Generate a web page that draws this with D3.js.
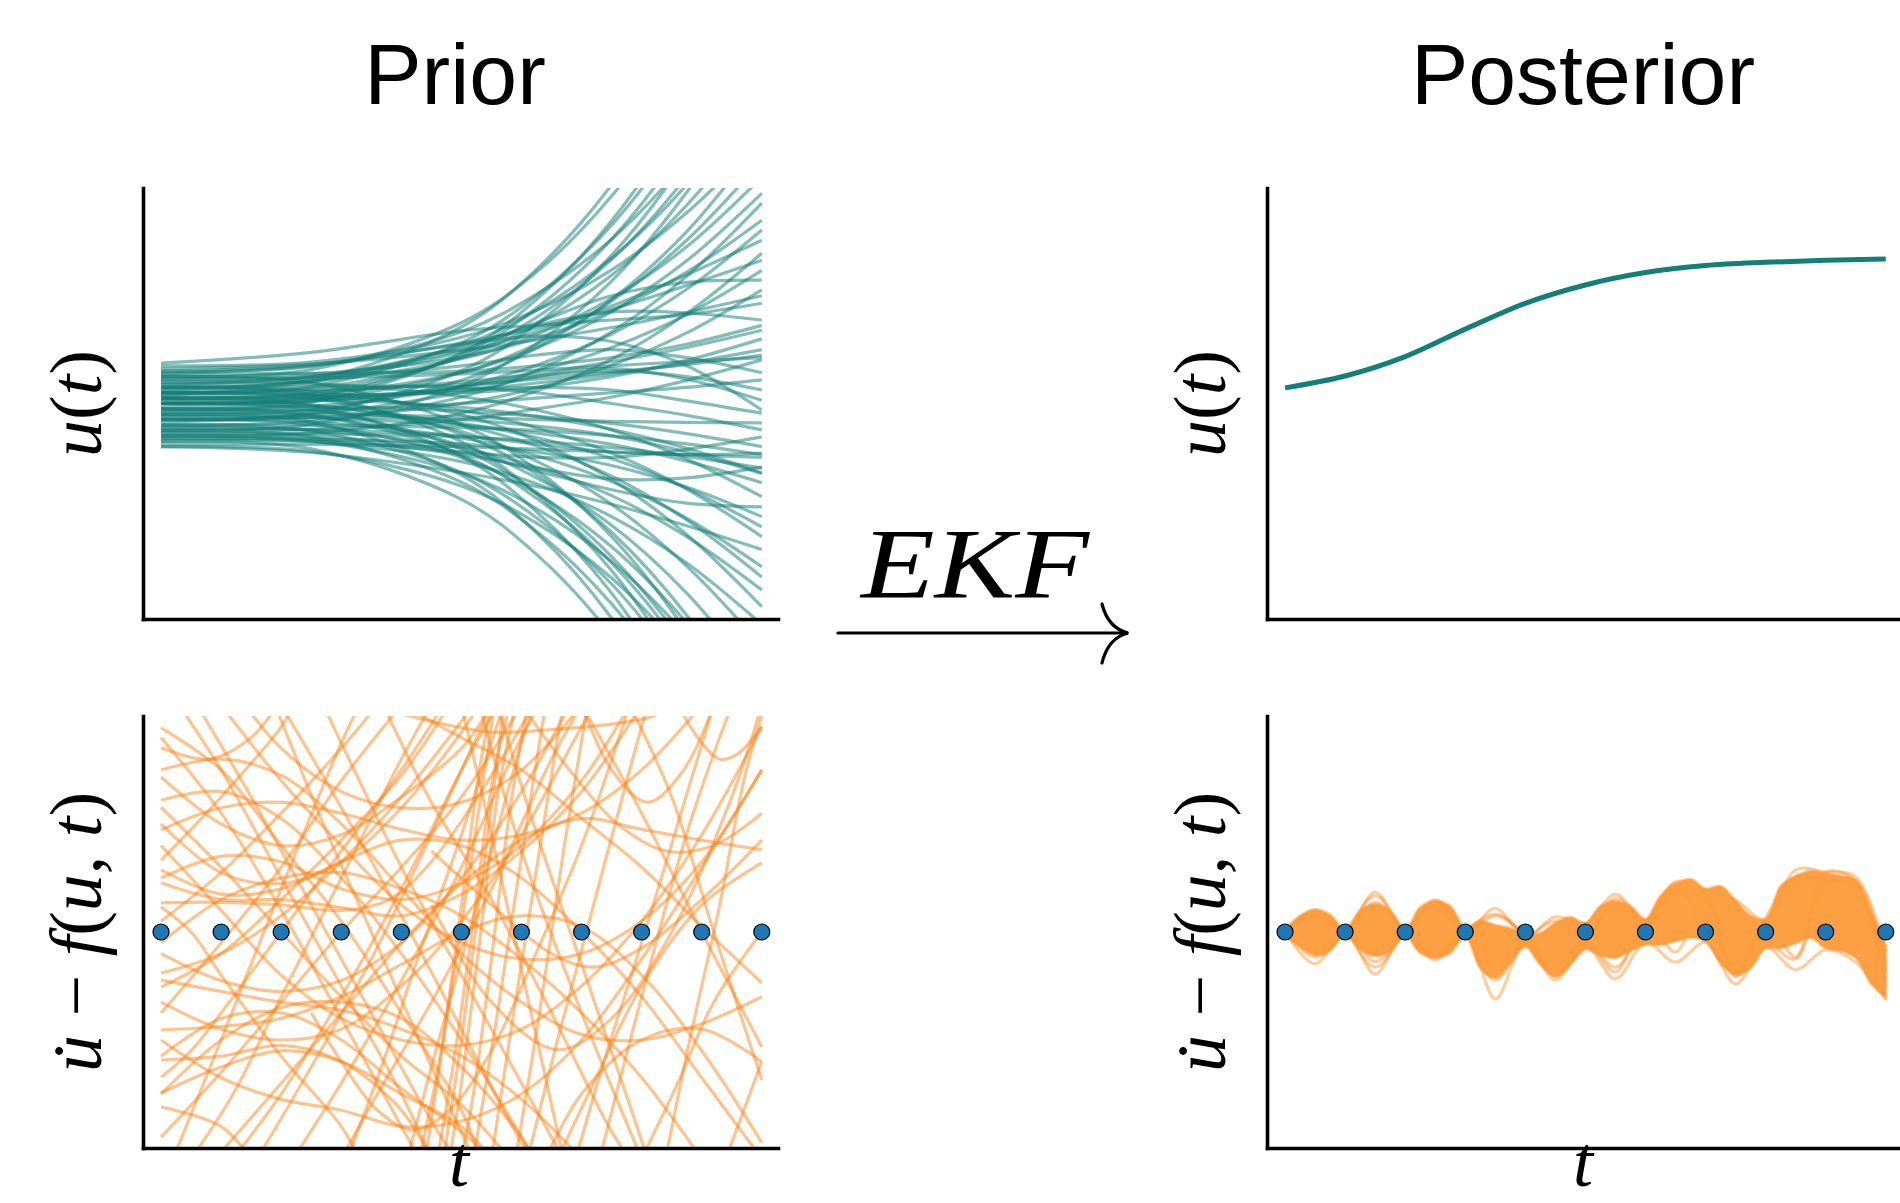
<!DOCTYPE html>
<html><head><meta charset="utf-8">
<script src="https://cdn.jsdelivr.net/npm/d3@7"></script>
<style>body{margin:0;background:#fff}svg{display:block}</style>
</head><body>
<svg id="chart" width="1900" height="1203"></svg>
<script>
// ---------------- DATA ----------------
const panelTitles = ["Prior", "Posterior"];
const obsT = [0,0.1,0.2,0.3,0.4,0.5,0.6,0.7,0.8,0.9,1.0];
const obsV = [0,0,0,0,0,0,0,0,0,0,0];

// prior samples of u(t), values at priorTGrid
const priorTGrid = [0,0.25,0.5,0.625,0.75,0.875,1];
const priorU = [
 [0.3,0.44,1.42,2.49,4.06,6.3,9.3],[0.5,0.63,1.5,2.44,3.85,5.84,8.5],[-0.1,0.03,0.94,1.93,3.39,5.46,8.2],
 [0.2,0.32,1.13,2.0,3.31,5.16,7.6],[0,0.12,0.91,1.77,3.05,4.86,7.3],[0.6,0.69,1.33,2.03,3.05,4.51,6.4],
 [-0.3,-0.18,0.61,1.47,2.75,4.56,7.0],[0.1,0.2,0.87,1.6,2.67,4.21,6.2],[0.4,0.49,1.08,1.73,2.7,4.06,5.9],
 [-0.5,-0.39,0.33,1.11,2.27,3.92,6.1],[0.2,0.28,0.85,1.47,2.38,3.68,5.4],[0.7,0.77,1.23,1.73,2.48,3.54,4.9],
 [-0.2,-0.12,0.43,1.03,1.93,3.19,4.9],[0,0.07,0.57,1.1,1.9,3.03,4.5],[0.35,0.41,0.83,1.28,1.95,2.91,4.2],
 [0.1,0.16,0.58,1.03,1.7,2.65,3.9],[-0.4,-0.33,0.12,0.61,1.33,2.36,3.72],[0.5,0.55,0.86,1.21,1.72,2.44,3.4],
 [-0.1,-0.05,0.32,0.71,1.29,2.12,3.22],[0.25,0.42,0.95,1.33,1.81,2.39,3.03],[-0.6,-0.55,-0.18,0.23,0.82,1.67,2.79],
 [0.6,0.72,1.12,1.4,1.75,2.19,2.66],[0,0.04,0.31,0.6,1.04,1.65,2.47],[0.35,0.5,1.0,1.5,2.0,2.25,2.29],
 [-0.3,-0.26,0,0.29,0.71,1.31,2.11],[0.15,0.4,1.05,1.45,1.7,1.68,1.55],[0.75,0.95,1.35,1.45,1.55,1.65,1.86],
 [0.2,0.22,0.4,0.55,0.78,1.04,1.36],[-0.5,-0.48,-0.3,-0.1,0.12,0.43,0.81],[0.45,0.5,0.7,0.9,1.0,0.85,0.57],
 [-0.15,-0.12,0,0.1,0.2,0.3,0.44],[0.05,0.1,0.3,0.5,0.6,0.5,0.25],[-0.35,-0.2,0.2,0.5,0.65,0.45,0.06],
 [0.55,0.7,1.1,1.25,1.15,0.7,-0.12],[0,0.05,0.25,0.3,0.25,0.05,-0.18],[-0.2,-0.2,-0.25,-0.3,-0.33,-0.35,-0.36],
 [0.3,0.32,0.3,0.2,0,-0.22,-0.49],[-0.7,-0.7,-0.9,-1.0,-1.0,-0.85,-0.62],[-0.45,-0.48,-0.6,-0.75,-0.9,-0.95,-0.92],
 [-0.6,-0.65,-0.95,-1.2,-1.4,-1.38,-1.18],[0.1,0.08,-0.07,-0.24,-0.48,-0.83,-1.29],[-0.25,-0.27,-0.4,-0.55,-0.76,-1.07,-1.47],
 [0.4,0.37,0.13,-0.12,-0.49,-1.03,-1.73],[-0.55,-0.6,-0.9,-1.25,-1.6,-1.85,-1.92],[-0.1,-0.14,-0.37,-0.63,-1.02,-1.57,-2.29],
 [0.2,0.16,-0.13,-0.45,-0.92,-1.59,-2.47],[-0.8,-0.91,-1.28,-1.54,-1.87,-2.27,-2.71],[-0.3,-0.34,-0.64,-0.97,-1.45,-2.13,-3.03],
 [0,-0.05,-0.4,-0.79,-1.35,-2.16,-3.22],[-0.45,-0.5,-0.83,-1.18,-1.71,-2.47,-3.46],[0.3,0.23,-0.21,-0.69,-1.41,-2.43,-3.77],
 [-0.7,-0.84,-1.78,-2.8,-4.31,-6.46,-9.3],[-0.2,-0.34,-1.33,-2.4,-3.98,-6.23,-9.2],[-0.5,-0.62,-1.46,-2.37,-3.72,-5.63,-8.2],
 [0.1,-0.04,-0.98,-2.01,-3.52,-5.68,-8.5],[-0.4,-0.51,-1.28,-2.12,-3.35,-5.11,-7.4],[0.3,0.17,-0.71,-1.68,-3.1,-5.13,-7.8],
 [-0.8,-0.89,-1.53,-2.22,-3.24,-4.69,-6.6],[-0.1,-0.21,-0.95,-1.76,-2.96,-4.67,-6.9],[0,-0.11,-0.84,-1.65,-2.84,-4.52,-6.75],
 [-0.6,-0.69,-1.29,-1.95,-2.93,-4.31,-6.1],[0.5,0.39,-0.39,-1.23,-2.47,-4.24,-6.6],[-0.3,-0.39,-1.0,-1.67,-2.66,-4.07,-5.9],
 [0.2,0.1,-0.57,-1.31,-2.39,-3.93,-6.0],[-0.15,-0.23,-0.78,-1.38,-2.26,-3.52,-5.2],[0.05,-0.02,-0.52,-1.07,-1.87,-3.02,-4.5],
 [-0.65,-0.71,-1.08,-1.49,-2.1,-2.96,-4.1],[0.65,0.73,0.99,1.18,1.41,1.69,2.0],[-0.75,-0.76,-0.8,-0.85,-0.9,-0.95,-1.0],
 [0.1,0.12,0.25,0.38,0.55,0.75,1.0],[-0.05,-0.06,-0.14,-0.24,-0.37,-0.56,-0.8],[0.25,0.26,0.35,0.45,0.58,0.72,0.9],
 [-0.4,-0.4,-0.45,-0.5,-0.6,-0.75,-0.95],[0.55,0.56,0.6,0.7,0.85,1.1,1.45],[-0.65,-0.66,-0.75,-0.9,-1.15,-1.55,-2.1],
 [0.15,0.16,0.2,0.3,0.5,0.8,1.2],[-0.25,-0.26,-0.3,-0.42,-0.6,-0.9,-1.3],[0.45,0.47,0.55,0.62,0.7,0.78,0.85],
 [-0.55,-0.56,-0.62,-0.7,-0.82,-0.98,-1.2]
];

// prior samples of the ODE residual, [t, value] pairs
const priorResidual = [
 [[0,3.78],[0.1,3.0],[0.2,1.6],[0.3,0.2],[0.4,-1.5],[0.5,-3.3],[0.53,-4.2]],
 [[0,3.41],[0.08,3.2],[0.15,3.6],[0.2,4.3]],
 [[0,2.87],[0.1,2.0],[0.2,1.6],[0.3,1.8],[0.4,2.5],[0.5,3.4],[0.55,4.2]],
 [[0,2.44],[0.1,2.6],[0.2,2.1],[0.3,1.0],[0.4,-0.4],[0.5,-2.0],[0.6,-3.8],[0.62,-4.2]],
 [[0,2.31],[0.1,1.2],[0.2,0],[0.3,-1.2],[0.4,-2.3],[0.5,-3.2],[0.58,-4.2]],
 [[0,1.89],[0.1,2.3],[0.2,2.4],[0.3,2.2],[0.4,1.9],[0.5,1.7],[0.6,1.8],[0.7,2.2],[0.8,3.0],[0.9,4.2]],
 [[0,1.33],[0.05,1.9],[0.1,2.5],[0.2,3.8],[0.22,4.2]],
 [[0,1.15],[0.1,0.7],[0.2,0.8],[0.3,1.3],[0.4,1.7],[0.5,1.6],[0.6,1.0],[0.7,0],[0.8,-1.2],[0.9,-2.7],[1.0,-4.2]],
 [[0,0.91],[0.1,0.6],[0.2,0.6],[0.3,0.45],[0.4,0.3],[0.5,0.7],[0.6,1.5],[0.7,2.6],[0.8,4.2]],
 [[0,0.54],[0.1,0.55],[0.2,0.5],[0.3,0.4],[0.38,0.6],[0.45,1.3],[0.55,2.9],[0.62,4.2]],
 [[0,0.46],[0.05,0],[0.1,-0.8],[0.2,-2.3],[0.3,-3.6],[0.33,-4.2]],
 [[0,-0.76],[0.1,-0.4],[0.2,0.3],[0.3,1.3],[0.4,2.5],[0.5,3.9],[0.52,4.2]],
 [[0,-0.89],[0.1,-1.1],[0.2,-1.3],[0.3,-1.45],[0.4,-1.8],[0.5,-2.3],[0.6,-3.1],[0.7,-4.2]],
 [[0,-1.02],[0.1,-0.4],[0.2,0.6],[0.3,1.7],[0.4,2.9],[0.48,4.2]],
 [[0,-1.81],[0.1,-1.75],[0.2,-1.6],[0.3,-1.2],[0.4,-0.6],[0.5,0],[0.6,0.3],[0.7,0.1],[0.8,-0.8],[0.9,-2.2],[1,-3.9]],
 [[0,-2.37],[0.1,-2.3],[0.2,-2.1],[0.3,-2.4],[0.4,-3.3],[0.45,-4.2]],
 [[0,-2.69],[0.05,-2.2],[0.1,-1.5],[0.2,0],[0.3,1.5],[0.4,3.0],[0.47,4.2]],
 [[0,-2.98],[0.1,-2.5],[0.2,-2.2],[0.3,-2.4],[0.4,-3.0],[0.5,-3.6],[0.55,-4.2]],
 [[0,-3.24],[0.1,-3.6],[0.15,-4.2]],
 [[0,-3.8],[0.1,-2.6],[0.2,-1.3],[0.3,0],[0.4,1.2],[0.5,2.5],[0.6,4.2]],
 [[0,3.0],[0.1,3.2],[0.2,2.9],[0.3,2.0],[0.4,0.8],[0.5,-0.4],[0.6,-1.3],[0.7,-1.9],[0.8,-2.0],[0.9,-1.7],[1.0,-1.2]],
 [[0,-0.2],[0.1,0.6],[0.2,1.0],[0.3,1.1],[0.4,0.8],[0.5,0.3],[0.6,-0.5],[0.7,-1.5],[0.8,-2.7],[0.9,-4.2]],
 [[0,-1.3],[0.1,-1.8],[0.2,-2.0],[0.3,-1.8],[0.4,-1.0],[0.5,0.2],[0.6,1.8],[0.7,3.8],[0.72,4.2]],
 [[0,1.6],[0.1,0.4],[0.2,-0.8],[0.3,-1.6],[0.4,-2.0],[0.5,-2.1],[0.6,-1.8],[0.7,-1.0],[0.8,0.2],[0.9,1.8],[1,3.8]],
 [[0,-2.0],[0.1,-2.7],[0.2,-3.1],[0.3,-3.3],[0.4,-3.6],[0.5,-3.5],[0.6,-3.0],[0.7,-2.0],[0.8,-0.5],[0.9,1.2],[1,3.0]],
 [[0.02,-4.2],[0.1,-2.0],[0.2,0.8],[0.3,3.5],[0.33,4.2]],
 [[0.05,-4.2],[0.12,-3.0],[0.2,-1.2],[0.3,1.0],[0.4,3.2],[0.45,4.2]],
 [[0.09,-4.2],[0.2,-2.8],[0.3,-1.5],[0.4,-0.2],[0.5,0.9],[0.6,1.7],[0.7,2.1],[0.8,1.9],[0.9,1.7],[1,1.52]],
 [[0.16,-4.2],[0.25,-2.5],[0.35,-0.5],[0.45,1.8],[0.55,4.2]],
 [[0.22,-4.2],[0.3,-2.8],[0.4,-0.9],[0.5,1.2],[0.6,3.6],[0.63,4.2]],
 [[0.06,4.2],[0.15,2.5],[0.25,0.5],[0.35,-1.5],[0.45,-3.5],[0.49,-4.2]],
 [[0.1,4.2],[0.2,2.8],[0.3,1.6],[0.4,0.5],[0.5,-0.2],[0.6,-0.5],[0.7,-0.4],[0.8,0.2],[0.9,1.3],[1.0,3.0]],
 [[0.14,4.2],[0.2,3.4],[0.3,2.6],[0.4,2.3],[0.5,2.4],[0.6,3.0],[0.7,4.2]],
 [[0.2,4.2],[0.3,2.3],[0.4,0.3],[0.5,-1.8],[0.6,-3.9],[0.62,-4.2]],
 [[0.27,4.2],[0.33,2.8],[0.4,1.2],[0.5,-0.8],[0.6,-2.8],[0.67,-4.2]],
 [[0.44,-4.2],[0.47,-2.0],[0.5,0.5],[0.53,3.0],[0.55,4.2]],
 [[0.46,-4.2],[0.49,-2.2],[0.52,0.2],[0.55,2.7],[0.58,4.2]],
 [[0.48,-4.2],[0.5,-2.8],[0.53,-0.2],[0.56,2.5],[0.59,4.2]],
 [[0.5,-4.2],[0.52,-3.0],[0.55,-0.5],[0.58,2.2],[0.61,4.2]],
 [[0.52,-4.2],[0.56,-1.5],[0.6,1.4],[0.64,4.2]],
 [[0.41,-4.2],[0.45,-2.5],[0.5,-0.5],[0.55,1.5],[0.6,3.5],[0.62,4.2]],
 [[0.55,-4.2],[0.58,-2.0],[0.62,0.8],[0.66,3.6],[0.67,4.2]],
 [[0.59,-4.2],[0.63,-1.5],[0.67,1.5],[0.71,4.2]],
 [[0.5,4.2],[0.55,1.8],[0.6,-0.7],[0.65,-3.2],[0.67,-4.2]],
 [[0.53,4.2],[0.6,1.5],[0.7,-1.5],[0.8,-4.2]],
 [[0.37,4.2],[0.45,2.4],[0.55,0.6],[0.65,-1.5],[0.75,-3.7],[0.78,-4.2]],
 [[0.35,4.2],[0.45,3.9],[0.55,3.7],[0.65,3.75],[0.75,3.85],[0.82,4.0],[0.85,4.2]],
 [[0.86,4.2],[0.9,3.5],[0.93,3.2],[0.96,3.3],[1.0,3.8]],
 [[0.7,4.2],[0.75,3.0],[0.81,2.4],[0.87,3.0],[0.92,4.2]],
 [[0.66,-4.2],[0.72,-2.8],[0.8,-1.0],[0.9,0.5],[1.0,1.28]],
 [[0.4,4.2],[0.5,3.6],[0.6,3.0],[0.7,2.1],[0.8,1.2],[0.9,0.1],[1.0,-0.94]],
 [[0.7,4.2],[0.8,2.2],[0.9,0],[1.0,-2.13]],
 [[0.78,4.2],[0.85,2.5],[0.92,0],[1.0,-2.74]],
 [[0.69,-4.2],[0.74,-2.3],[0.8,-0.2],[0.86,2.0],[0.92,4.2]],
 [[0.73,-4.2],[0.8,-1.2],[0.88,2.0],[0.95,4.2]],
 [[0.45,1.5],[0.55,0.5],[0.65,-0.4],[0.72,-0.65],[0.8,-0.3],[0.9,0.6],[1.0,1.7]],
 [[0.45,0.5],[0.55,-1.3],[0.66,-2.18],[0.75,-1.6],[0.85,0],[0.95,2.5],[1.0,4.2]],
 [[0.25,-1.5],[0.3,-2.4],[0.36,-3.3],[0.42,-3.67],[0.48,-3.3],[0.55,-2.2],[0.62,-0.5],[0.7,1.6],[0.78,4.2]],
 [[0.84,-4.2],[0.88,-2.0],[0.93,0.5],[0.97,2.8],[1.0,4.0]],
 [[0.8,-4.2],[0.86,-2.8],[0.92,-1.3],[1.0,0]],
 [[0.94,-4.2],[0.97,-3.3],[1.0,-2.4]],
 [[0,-0.4],[0.1,-0.9],[0.2,-1.1],[0.3,-0.9],[0.4,-0.2],[0.5,1.0],[0.6,2.6],[0.68,4.2]],
 [[0,0.2],[0.1,1.1],[0.2,2.2],[0.3,3.4],[0.36,4.2]],
 [[0,-3.0],[0.1,-2.0],[0.2,-1.4],[0.3,-1.3],[0.4,-1.6],[0.5,-2.5],[0.6,-3.8],[0.62,-4.2]],
 [[0.03,4.2],[0.1,3.0],[0.2,1.0],[0.3,-1.0],[0.4,-3.0],[0.45,-4.2]],
 [[0.3,-4.2],[0.36,-3.0],[0.45,-1.3],[0.55,0.8],[0.65,3.2],[0.7,4.2]],
 [[0,3.6],[0.1,2.2],[0.2,0.4],[0.3,-1.6],[0.4,-3.6],[0.43,-4.2]],
 [[0,-1.5],[0.1,-0.2],[0.2,1.2],[0.3,2.8],[0.4,4.2]],
 [[0.12,-4.2],[0.2,-3.0],[0.3,-1.2],[0.4,0.8],[0.5,3.0],[0.56,4.2]],
 [[0.19,4.2],[0.27,2.0],[0.35,0],[0.43,-2.0],[0.52,-4.2]],
 [[0.31,-4.2],[0.37,-2.4],[0.43,-0.4],[0.5,1.8],[0.57,4.2]],
 [[0.43,-4.2],[0.46,-2.6],[0.49,-0.6],[0.52,1.6],[0.555,4.2]],
 [[0.47,-4.2],[0.5,-2.0],[0.53,0.6],[0.56,3.2],[0.57,4.2]],
 [[0.56,4.2],[0.62,2.0],[0.7,-0.6],[0.78,-3.2],[0.81,-4.2]],
 [[0.61,-4.2],[0.66,-2.0],[0.72,0.5],[0.78,3.0],[0.81,4.2]],
 [[0,1.0],[0.1,1.4],[0.2,1.3],[0.3,0.8],[0.4,0.6],[0.5,0.9],[0.6,1.6],[0.7,2.8],[0.78,4.2]],
 [[0,-2.3],[0.1,-1.6],[0.2,-1.5],[0.3,-2.0],[0.4,-2.9],[0.5,-3.7],[0.55,-4.2]],
 [[0.6,4.2],[0.68,3.0],[0.76,2.0],[0.84,1.5],[0.92,1.6],[1.0,2.2]],
 [[0.64,-4.2],[0.7,-3.0],[0.8,-2.0],[0.9,-1.8],[1.0,-2.4]],
 [[0,2.0],[0.1,1.1],[0.2,0.9],[0.3,1.3],[0.4,2.3],[0.5,3.7],[0.53,4.2]]
];

// posterior mean of u(t)
const postTGrid = [0,0.1,0.2,0.3,0.4,0.5,0.6,0.7,0.8,0.9,1.0];
const postU = [0.29,0.51,0.87,1.38,1.86,2.20,2.43,2.56,2.62,2.66,2.68];

// posterior residual samples: dense envelope
const bandT = [0,0.025,0.05,0.075,0.1,0.125,0.15,0.175,0.2,0.225,0.25,0.275,0.3,0.325,0.35,0.375,0.4,0.425,0.45,0.475,0.5,
  0.525,0.55,0.575,0.6,0.625,0.65,0.675,0.7,0.725,0.75,0.775,0.8,0.825,0.85,0.875,0.9,0.925,0.95,0.975,1.0];
const bandUpper = [0.04,0.30,0.41,0.32,0.04,0.39,0.52,0.39,0.05,0.46,0.58,0.48,0.08,0.21,0.13,0.07,-0.06,-0.02,0.17,0.28,0.17,
  0.48,0.58,0.48,0.24,0.67,0.89,0.98,0.80,0.85,0.58,0.30,0.24,0.85,1.04,1.13,1.09,1.04,0.95,0.39,-0.26];
const bandLower = [-0.04,-0.28,-0.43,-0.35,-0.04,-0.32,-0.45,-0.35,-0.07,-0.39,-0.48,-0.39,-0.08,-0.67,-0.85,-0.58,-0.28,-0.61,-0.83,-0.61,-0.32,
  -0.43,-0.48,-0.35,-0.24,-0.24,-0.17,-0.11,-0.17,-0.58,-0.80,-0.67,-0.30,-0.30,-0.21,-0.11,-0.30,-0.35,-0.48,-0.95,-1.22];
// posterior residual samples: outlying draws
const outlierT = [0,0.05,0.1,0.15,0.2,0.25,0.3,0.35,0.4,0.45,0.5,0.55,0.6,0.65,0.7,0.75,0.8,0.85,0.9,0.95,1.0];
const outlierSamples = [
 [0,0.41,0,0.74,0,0.59,0,0.44,-0.09,0.28,0.15,0.70,0.19,0.93,0.78,0.59,0.22,1.15,1.11,1.02,-0.37],
 [0,-0.59,0,-0.78,0,-0.52,0,-1.24,-0.19,-0.89,-0.26,-0.87,-0.19,-0.56,-0.19,-0.96,-0.28,-0.70,-0.33,-0.56,-1.26],
 [0,0.33,0,-0.65,0,0.52,0,-0.89,-0.22,-0.81,-0.22,-0.74,0.22,-0.37,0.74,-0.83,0.26,1.02,0.96,0.83,-0.74],
 [0,-0.46,0,0.67,0,-0.44,0,0.33,-0.07,-0.70,-0.26,0.63,0.22,0.89,-0.09,-0.74,0.19,-0.46,1.11,0.93,-1.02],
 [0,0.30,0,0.55,0,-0.40,0,-0.60,-0.15,0.20,-0.10,0.50,0.10,0.80,0.60,-0.70,0.10,0.90,1.00,0.70,-0.90],
 [0,-0.35,0,-0.55,0,0.45,0,0.30,-0.05,-0.60,-0.20,-0.65,0.15,0.70,0.50,0.45,-0.10,-0.50,0.90,0.95,-0.60]
];

// ---------------- STYLE / LAYOUT ----------------
const TEAL = "#137f77", ORANGE = "#ff8214", BAND = "#fd9b3a", BLUE = "#1f77b4";
const svg = d3.select("#chart");
const panels = [
  {x0:143, x1:778, y0:188, y1:619},   // top-left
  {x0:143, x1:778, y0:716, y1:1148},  // bottom-left
  {x0:1267, x1:1902, y0:188, y1:619}, // top-right
  {x0:1267, x1:1902, y0:716, y1:1148} // bottom-right
];
function scales(p){
  return {
    x: d3.scaleLinear().domain([-0.03,1.027]).range([p.x0,p.x1]),
    y: d3.scaleLinear().domain([-4,4]).range([p.y1,p.y0])
  };
}
const defs = svg.append("defs");
panels.forEach((p,i)=>{
  defs.append("clipPath").attr("id","clip"+i).append("rect")
    .attr("x",p.x0).attr("y",p.y0).attr("width",p.x1-p.x0).attr("height",p.y1-p.y0);
});
const curve = d3.curveCatmullRom.alpha(0.5);

function drawAxes(p){
  const s = scales(p);
  const gx = svg.append("g").attr("transform",`translate(0,${p.y1})`)
    .call(d3.axisBottom(s.x).tickValues([]).tickSizeOuter(0));
  const gy = svg.append("g").attr("transform",`translate(${p.x0},0)`)
    .call(d3.axisLeft(s.y).tickValues([]).tickSizeOuter(0));
  [gx,gy].forEach(g=>g.select(".domain").attr("stroke","#000").attr("stroke-width",3.6).attr("stroke-linecap","square"));
}

// Panel 0: prior u(t)
{
  const s = scales(panels[0]);
  const line = d3.line().x((d,i)=>s.x(priorTGrid[i])).y(d=>s.y(d)).curve(curve);
  svg.append("g").attr("clip-path","url(#clip0)").selectAll("path").data(priorU).join("path")
    .attr("d",line).attr("fill","none").attr("stroke",TEAL).attr("stroke-opacity",0.52).attr("stroke-width",3.2);
}
// Panel 1: prior residual
{
  const s = scales(panels[1]);
  const line = d3.line().x(d=>s.x(d[0])).y(d=>s.y(d[1])).curve(curve);
  svg.append("g").attr("clip-path","url(#clip1)").selectAll("path").data(priorResidual).join("path")
    .attr("d",line).attr("fill","none").attr("stroke",ORANGE).attr("stroke-opacity",0.48).attr("stroke-width",3.2);
  svg.append("g").selectAll("circle").data(obsT).join("circle")
    .attr("cx",d=>s.x(d)).attr("cy",(d,i)=>s.y(obsV[i])).attr("r",8)
    .attr("fill",BLUE).attr("stroke","#000").attr("stroke-width",1.2);
}
// Panel 2: posterior u(t)
{
  const s = scales(panels[2]);
  const line = d3.line().x((d,i)=>s.x(postTGrid[i])).y(d=>s.y(d)).curve(d3.curveMonotoneX);
  svg.append("path").attr("clip-path","url(#clip2)").datum(postU).attr("d",line)
    .attr("fill","none").attr("stroke",TEAL).attr("stroke-width",5);
}
// Panel 3: posterior residual
{
  const s = scales(panels[3]);
  const area = d3.area().x((d,i)=>s.x(bandT[i])).y0((d,i)=>s.y(bandLower[i])).y1(d=>s.y(d)).curve(curve);
  const g = svg.append("g").attr("clip-path","url(#clip3)");
  const line = d3.line().x((d,i)=>s.x(outlierT[i])).y(d=>s.y(d)).curve(curve);
  g.selectAll("path.out").data(outlierSamples).join("path").attr("class","out")
    .attr("d",line).attr("fill","none").attr("stroke",ORANGE).attr("stroke-opacity",0.4).attr("stroke-width",3.2);
  g.append("path").datum(bandUpper).attr("d",area).attr("fill",BAND).attr("fill-opacity",0.95).attr("stroke",BAND)
    .attr("stroke-width",3).attr("stroke-opacity",0.5);
  svg.append("g").selectAll("circle").data(obsT).join("circle")
    .attr("cx",d=>s.x(d)).attr("cy",(d,i)=>s.y(obsV[i])).attr("r",8)
    .attr("fill",BLUE).attr("stroke","#000").attr("stroke-width",1.2);
}
panels.forEach(drawAxes);

// ---------------- TEXT ----------------
const titleX = [455, 1583];
panelTitles.forEach((t,i)=>{
  svg.append("text").attr("x",titleX[i]).attr("y",104).attr("text-anchor","middle")
    .attr("font-family","Liberation Sans, Arial, sans-serif").attr("font-size",86).text(t);
});
const MATH = "Liberation Serif, Times New Roman, serif";
function mathText(x,y,rot,parts,size){
  const t = svg.append("text").attr("transform",`translate(${x},${y}) rotate(${rot})`)
    .attr("text-anchor","middle").attr("font-family",MATH).attr("font-size",size);
  parts.forEach(p=>t.append("tspan").attr("font-style",p[1]?"italic":"normal").text(p[0]));
  return t;
}
const uLabel = [["u",1],["(",0],["t",1],[")",0]];
const resLabel = [["u\u0307",1],[" \u2212 ",0],["f",1],["(",0],["u",1],[", ",0],["t",1],[")",0]];
[[101,403.5,uLabel],[101,932,resLabel],[1225,403.5,uLabel],[1225,932,resLabel]].forEach(d=>{
  mathText(d[0],d[1],-90,d[2],74);
});
mathText(459,1186,0,[["t",1]],72);
mathText(1583,1186,0,[["t",1]],72);

// EKF arrow annotation
svg.append("text").attr("x",975).attr("y",597).attr("text-anchor","middle")
  .attr("font-family",MATH).attr("font-style","italic").attr("font-size",100)
  .attr("textLength",228).attr("lengthAdjust","spacingAndGlyphs").text("EKF");
svg.append("path").attr("d","M838,633 L1127,633").attr("stroke","#000").attr("stroke-width",3.2)
  .attr("stroke-linecap","round").attr("fill","none");
svg.append("path").attr("d","M1102,604 Q1108,628 1128,633 Q1108,638 1102,663").attr("stroke","#000")
  .attr("stroke-width",3.2).attr("stroke-linecap","round").attr("fill","none");
</script>
</body></html>
